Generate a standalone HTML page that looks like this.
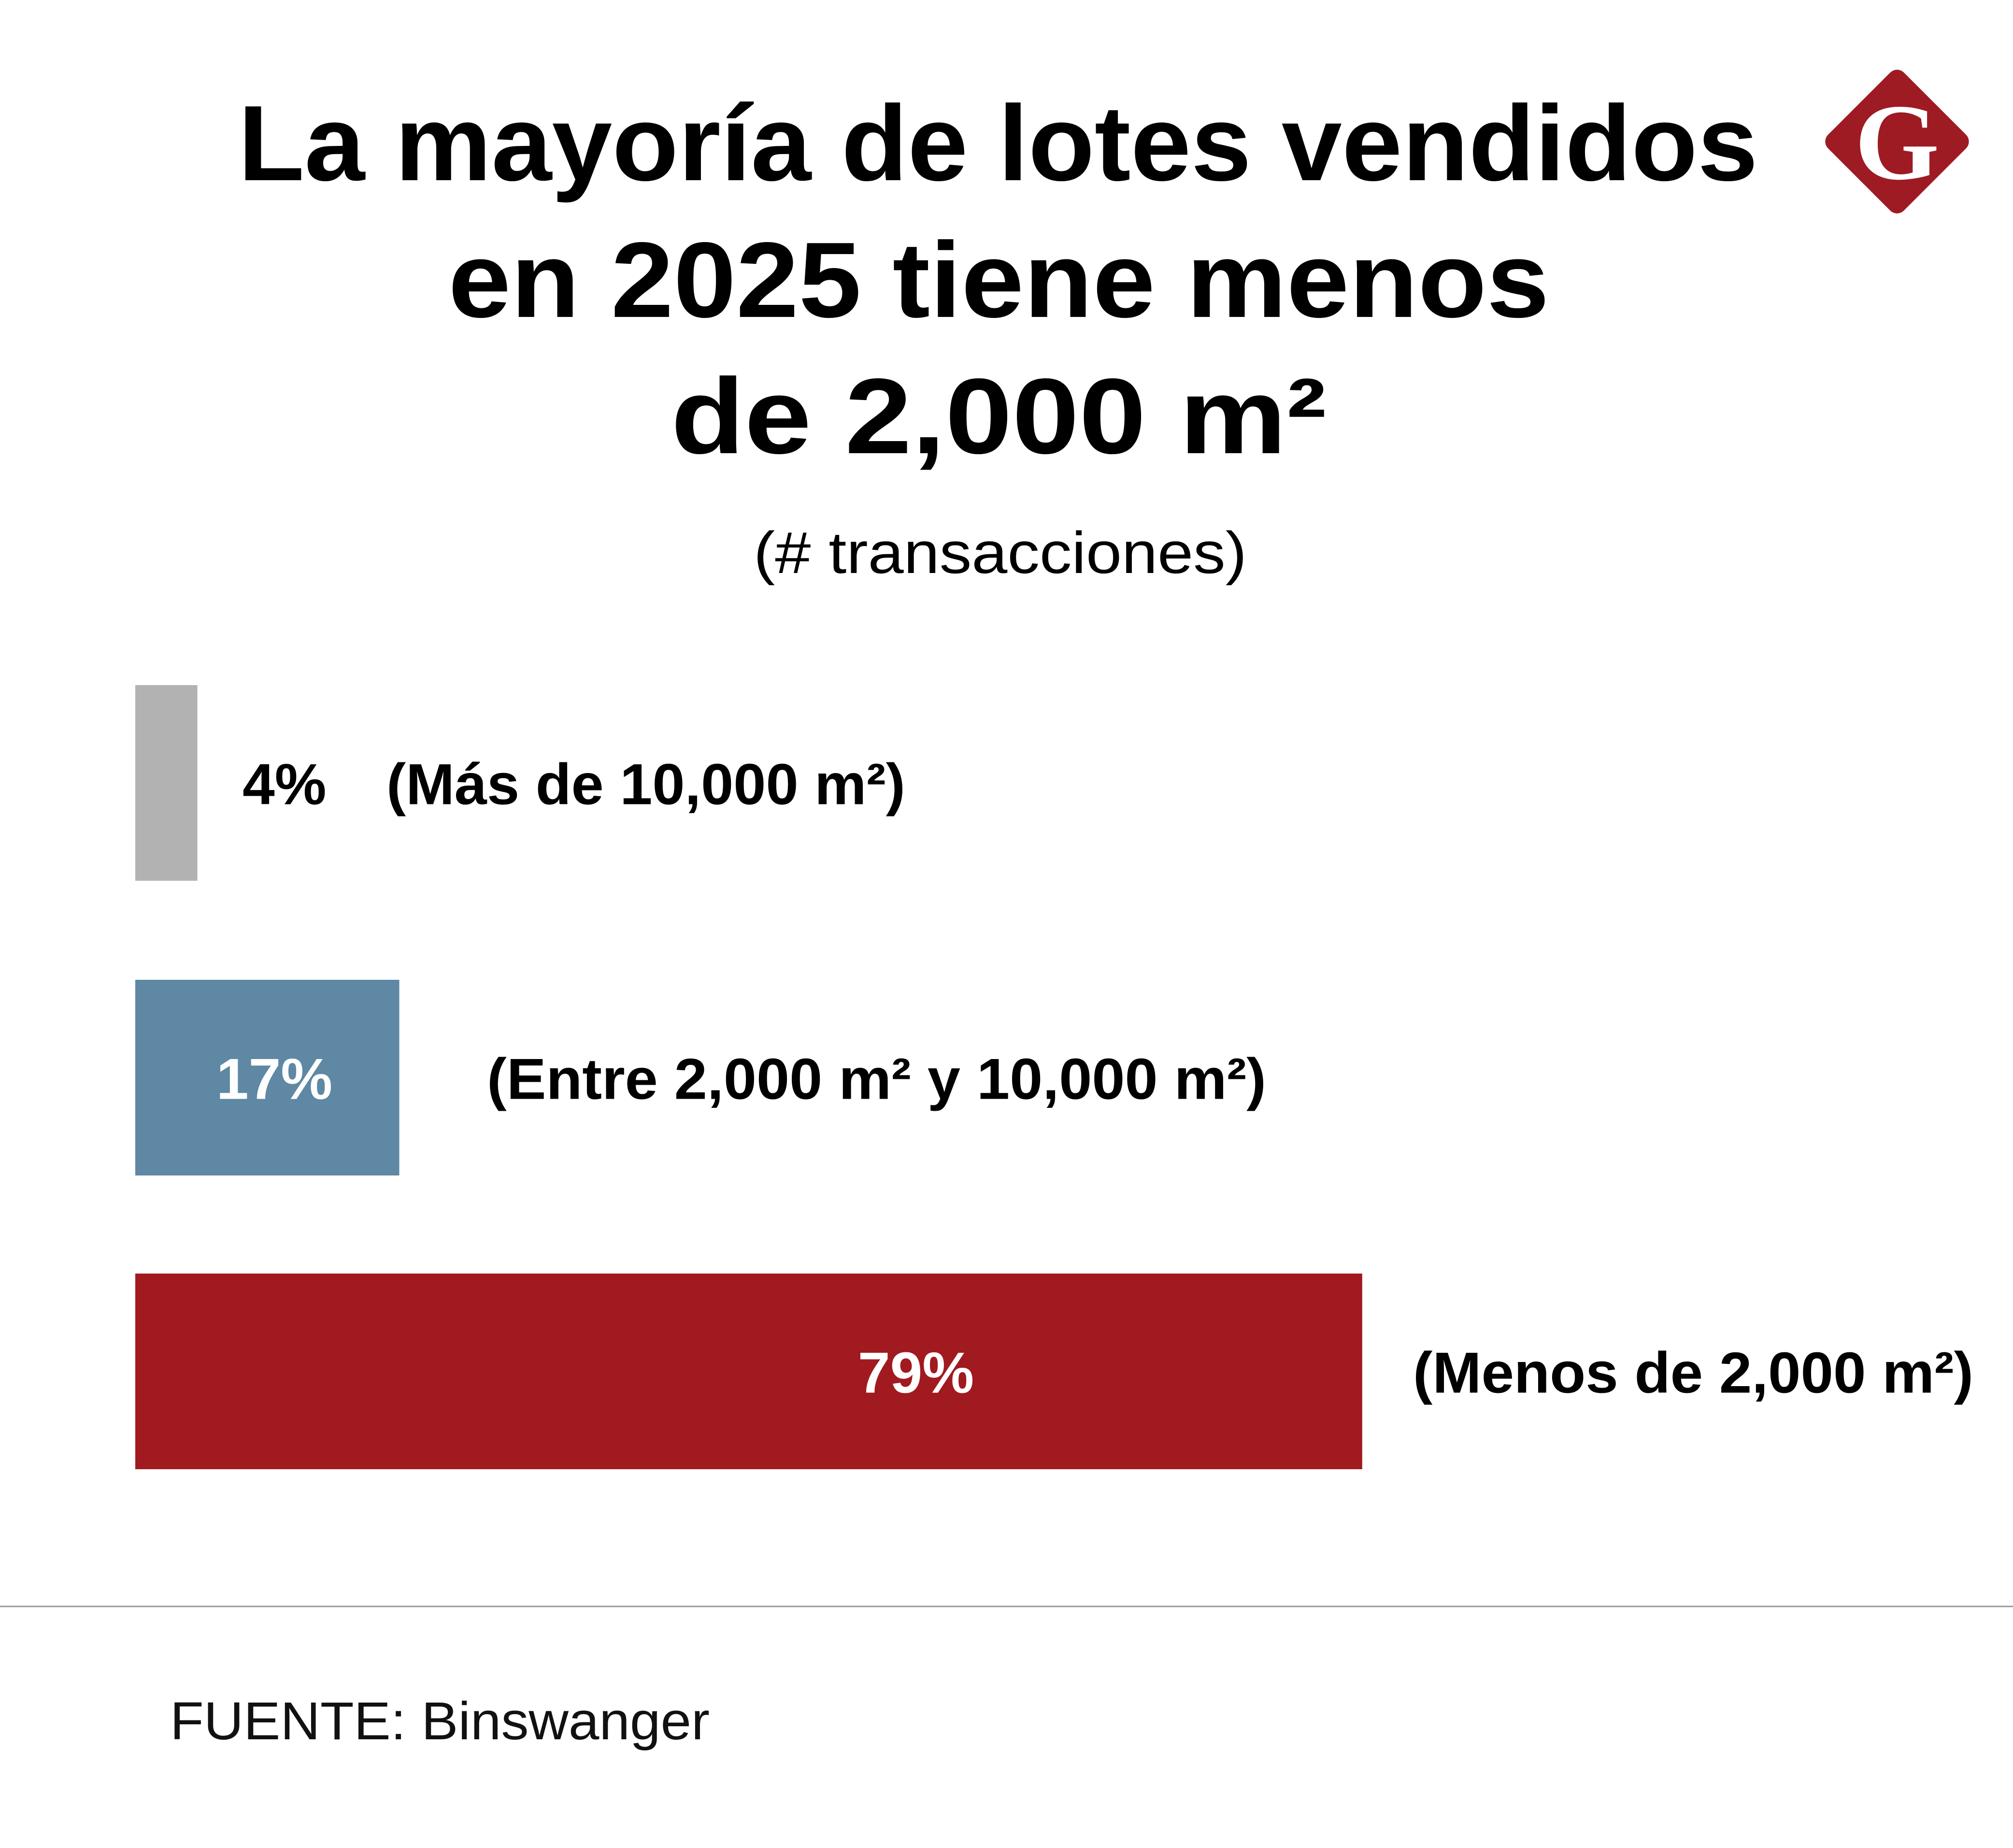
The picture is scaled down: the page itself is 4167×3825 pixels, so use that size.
<!DOCTYPE html>
<html><head><meta charset="utf-8"><style>
html,body{margin:0;padding:0;background:#fff;}
svg{display:block;}
</style></head><body>
<svg id="chart" width="4167" height="3825" viewBox="0 0 4167 3825" xmlns="http://www.w3.org/2000/svg" font-family="'Liberation Sans', sans-serif">
<rect width="4167" height="3825" fill="#fff"/>
<g font-weight="bold" font-size="222" fill="#000">
<text x="493" y="373" textLength="3146" lengthAdjust="spacingAndGlyphs">La mayoría de lotes vendidos</text>
<text x="928" y="656" textLength="2279" lengthAdjust="spacingAndGlyphs">en 2025 tiene menos</text>
<text x="1389" y="938" textLength="1357" lengthAdjust="spacingAndGlyphs">de 2,000 m²</text>
</g>
<text x="1560" y="1186" font-size="122" fill="#000" textLength="1021" lengthAdjust="spacingAndGlyphs">(# transacciones)</text>
<g>
<rect x="3816" y="182" width="222" height="222" rx="20" fill="#9e1b24" transform="rotate(45 3927 293)"/>
<text x="3927" y="370" text-anchor="middle" font-family="'Liberation Serif', serif" font-weight="bold" font-size="225" fill="#fff">G</text>
</g>
<g id="bars"></g>
<line x1="0" y1="3325" x2="4167" y2="3325" stroke="#999" stroke-width="3"/>
<text x="352" y="3600" font-size="110" fill="#111" textLength="1117" lengthAdjust="spacingAndGlyphs">FUENTE: Binswanger</text>
</svg>
<script>
const categories = ["(Más de 10,000 m²)", "(Entre 2,000 m² y 10,000 m²)", "(Menos de 2,000 m²)"];
const values = [4, 17, 79];
const valueLabels = ["4%", "17%", "79%"];
const colors = ["#b3b2b2", "#5e88a3", "#a01a20"];
const NS = "http://www.w3.org/2000/svg";
const x0 = 280, pxPerPct = 32.15, barH = 405, barTops = [1418, 2028, 2636];
const valueLabelX = [502, 568, 1896];
const catLabelX = [800, 1008, 2925];
const catLabelW = [1074, 1613, 1160];
const xs = v => x0 + v * pxPerPct;
const g = document.getElementById('bars');
values.forEach((v, i) => {
  const y = barTops[i];
  const r = document.createElementNS(NS, 'rect');
  
  
  r.setAttribute('x', x0); r.setAttribute('y', y);
  r.setAttribute('width', xs(v) - x0); r.setAttribute('height', barH);
  r.setAttribute('fill', colors[i]);
  g.appendChild(r);
  const base = y + barH / 2 + 44;
  const inside = v >= 10;
  const t = document.createElementNS(NS, 'text');
  
  
  t.setAttribute('font-weight', 'bold'); t.setAttribute('font-size', '120');
  if (inside) {
    t.setAttribute('x', valueLabelX[i]); t.setAttribute('text-anchor', 'middle'); t.setAttribute('fill', '#fff');
  } else {
    t.setAttribute('x', valueLabelX[i]); t.setAttribute('fill', '#000');
  }
  t.setAttribute('y', base);
  t.textContent = valueLabels[i];
  g.appendChild(t);
  const c = document.createElementNS(NS, 'text');
  
  
  c.setAttribute('font-size', '120'); c.setAttribute('fill', '#000');
  c.setAttribute('font-weight', 'bold');
  c.setAttribute('x', catLabelX[i]); c.setAttribute('y', base);
  c.setAttribute('textLength', catLabelW[i]);
  c.setAttribute('lengthAdjust', 'spacingAndGlyphs');
  c.textContent = categories[i];
  g.appendChild(c);
});
</script>
</body></html>
